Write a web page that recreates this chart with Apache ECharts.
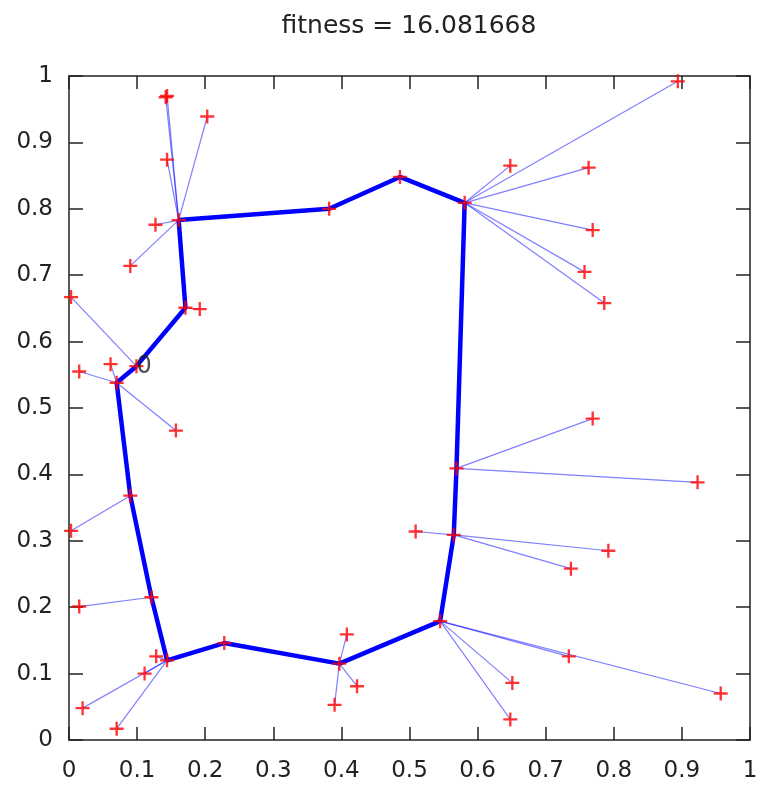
<html>
<head>
<meta charset="utf-8" />
<title></title>
<script type="text/javascript" src="https://cdn.jsdelivr.net/npm/echarts/dist/echarts.min.js"></script>
<style>
	html, body, #main {
		padding: 0;
		margin: 0;
		width: 763px;
		height: 792px;
		background: #fff;
	}
</style>
</head>
<body>
<div id="main"></div>
<script type="text/javascript">
	// tour (depot "0" first), closed back to the start when drawn
	var tourX = [0.099, 0.171, 0.161, 0.382, 0.486, 0.581, 0.569, 0.565, 0.545, 0.397, 0.228, 0.144, 0.121, 0.090, 0.070];
	var tourY = [0.563, 0.651, 0.783, 0.800, 0.848, 0.809, 0.409, 0.309, 0.179, 0.115, 0.146, 0.120, 0.215, 0.368, 0.538];

	// customers and the tour node each one hangs from
	var custX = [0.003, 0.192,
		0.142, 0.144, 0.203, 0.144, 0.127, 0.090,
		0.894, 0.648, 0.763, 0.769, 0.757, 0.786,
		0.769, 0.923,
		0.509, 0.792, 0.737,
		0.734, 0.957, 0.651, 0.648,
		0.408, 0.423, 0.390,
		0.128, 0.111, 0.020, 0.070,
		0.015, 0.003,
		0.061, 0.015, 0.157];
	var custY = [0.667, 0.649,
		0.968, 0.970, 0.939, 0.874, 0.776, 0.714,
		0.992, 0.865, 0.862, 0.768, 0.705, 0.658,
		0.484, 0.388,
		0.314, 0.285, 0.258,
		0.126, 0.070, 0.086, 0.031,
		0.159, 0.081, 0.053,
		0.126, 0.100, 0.048, 0.017,
		0.201, 0.315,
		0.566, 0.555, 0.466];
	var custHub = [0, 1,
		2, 2, 2, 2, 2, 2,
		5, 5, 5, 5, 5, 5,
		6, 6,
		7, 7, 7,
		8, 8, 8, 8,
		9, 9, 9,
		11, 11, 11, 11,
		12, 13,
		14, 14, 14];

	var titleText = 'fitness = 16.081668';
	var tickStep = 0.1;

	var tourLine = [];
	for (var i = 0; i < tourX.length; i++) tourLine.push([tourX[i], tourY[i]]);
	tourLine.push([tourX[0], tourY[0]]);

	var links = [];
	var points = [];
	for (var j = 0; j < custX.length; j++) {
		var h = custHub[j];
		links.push({coords: [[custX[j], custY[j]], [tourX[h], tourY[h]]]});
		points.push([custX[j], custY[j]]);
	}
	for (var k = 0; k < tourX.length; k++) {
		if (k == 0) {
			points.push({value: [tourX[k], tourY[k]], label: {show: true, formatter: '0', position: 'right', distance: 0,
				offset: [-7, 1], fontFamily: 'DejaVu Sans', fontSize: 24, color: '#222'}});
		} else {
			points.push([tourX[k], tourY[k]]);
		}
	}

	var plus = 'path://M5,0h2v5h5v2h-5v5h-2v-5h-5v-2h5z';
	var axisLine = {show: true, onZero: false, lineStyle: {color: '#222', width: 1.5}};
	var lbl = {fontFamily: 'DejaVu Sans', fontSize: 23, color: '#222'};

	var chart = echarts.init(document.getElementById('main'));
	chart.setOption({
		animation: false,
		backgroundColor: '#fff',
		title: {
			text: titleText,
			left: 404,
			textAlign: 'center',
			top: 9,
			textStyle: {fontFamily: 'DejaVu Sans', fontSize: 25, fontWeight: 'normal', color: '#222'}
		},
		grid: {left: 69, right: 13, top: 76, bottom: 52},
		xAxis: [{
			type: 'value', min: 0, max: 1, interval: tickStep, position: 'bottom',
			axisLine: axisLine,
			axisTick: {show: true, inside: true, length: 13, lineStyle: {color: '#222', width: 1.5}},
			axisLabel: Object.assign({margin: 20}, lbl),
			splitLine: {show: false}
		}, {
			type: 'value', min: 0, max: 1, interval: tickStep, position: 'top',
			axisLine: axisLine,
			axisTick: {show: true, inside: true, length: 13, lineStyle: {color: '#222', width: 1.5}},
			axisLabel: {show: false},
			splitLine: {show: false}
		}],
		yAxis: [{
			type: 'value', min: 0, max: 1, interval: tickStep, position: 'left',
			axisLine: axisLine,
			axisTick: {show: true, inside: true, length: 14, lineStyle: {color: '#222', width: 1.5}},
			axisLabel: Object.assign({margin: 16}, lbl),
			splitLine: {show: false}
		}, {
			type: 'value', min: 0, max: 1, interval: tickStep, position: 'right',
			axisLine: axisLine,
			axisTick: {show: true, inside: true, length: 14, lineStyle: {color: '#222', width: 1.5}},
			axisLabel: {show: false},
			splitLine: {show: false}
		}],
		series: [{
			type: 'lines',
			coordinateSystem: 'cartesian2d',
			data: links,
			lineStyle: {color: 'rgba(0,0,255,0.5)', width: 1.2, opacity: 1},
			z: 2
		}, {
			type: 'line',
			data: tourLine,
			showSymbol: false,
			lineStyle: {color: '#0000ff', width: 4.5},
			z: 3
		}, {
			type: 'scatter',
			data: points,
			symbol: plus,
			symbolSize: 14,
			itemStyle: {color: '#ff0000'},
			z: 4
		}]
	});
</script>
</body>
</html>
